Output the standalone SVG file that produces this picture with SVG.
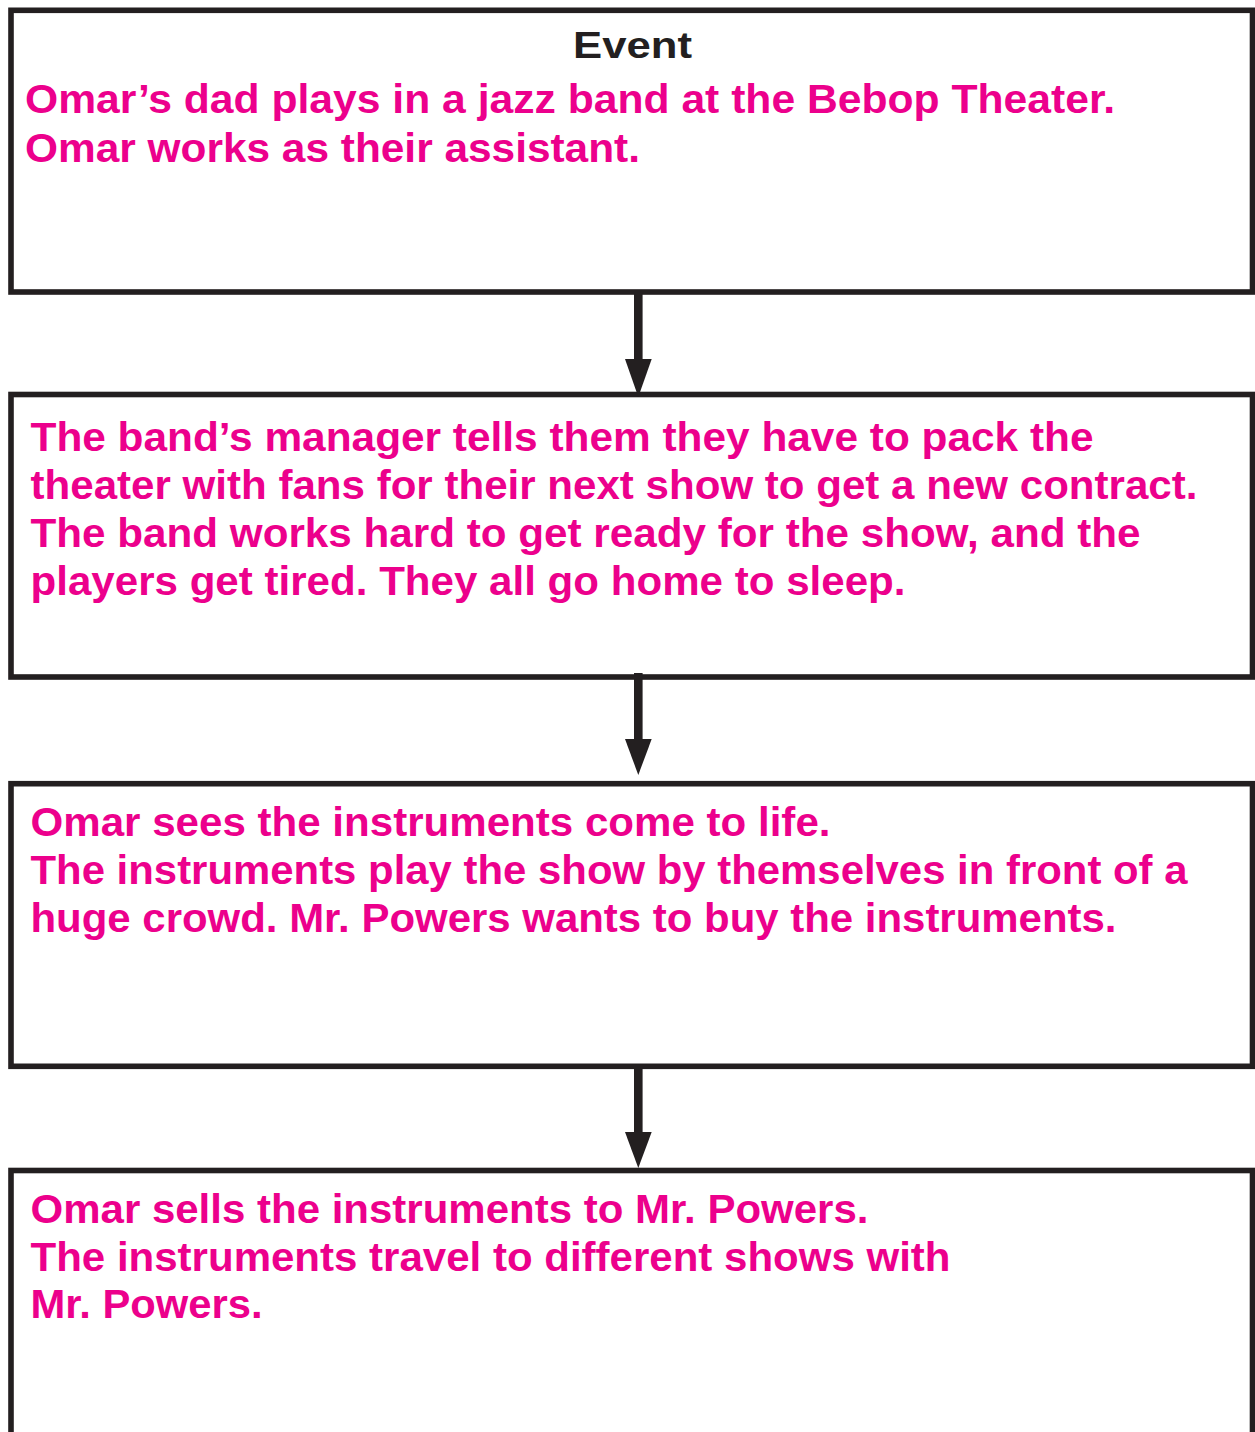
<svg xmlns="http://www.w3.org/2000/svg" width="1255" height="1432" viewBox="0 0 1255 1432">
  <style>
    .box { fill: #ffffff; stroke: #231f20; stroke-width: 5.6; }
    .shaft { stroke: #231f20; stroke-width: 8.6; fill: none; }
    .head { fill: #231f20; }
    .title { font-family: "Liberation Sans", Arial, sans-serif; font-weight: bold; font-size: 37px; fill: #231f20; }
    .txt { font-family: "Liberation Sans", Arial, sans-serif; font-weight: bold; font-size: 41px; fill: #ec008c; }
  </style>
  <rect width="1255" height="1432" fill="#ffffff"/>

  <g id="event-1">
    <rect class="box" x="11" y="10.3" width="1241.5" height="281.7"/>
    <text class="title" x="573" y="58.3" textLength="119" lengthAdjust="spacingAndGlyphs">Event</text>
    <text class="txt" x="25" y="113.3" textLength="1090" lengthAdjust="spacingAndGlyphs">Omar’s dad plays in a jazz band at the Bebop Theater.</text>
    <text class="txt" x="25" y="161.5" textLength="615" lengthAdjust="spacingAndGlyphs">Omar works as their assistant.</text>
  </g>

  <g id="event-2">
    <rect class="box" x="11" y="394.5" width="1241.5" height="282.5"/>
    <text class="txt" x="30.5" y="451" textLength="1063" lengthAdjust="spacingAndGlyphs">The band’s manager tells them they have to pack the</text>
    <text class="txt" x="30.5" y="499" textLength="1167" lengthAdjust="spacingAndGlyphs">theater with fans for their next show to get a new contract.</text>
    <text class="txt" x="30.5" y="547" textLength="1110" lengthAdjust="spacingAndGlyphs">The band works hard to get ready for the show, and the</text>
    <text class="txt" x="30.5" y="595" textLength="875" lengthAdjust="spacingAndGlyphs">players get tired. They all go home to sleep.</text>
  </g>

  <g id="event-3">
    <rect class="box" x="11" y="783.7" width="1241.5" height="282.6"/>
    <text class="txt" x="30.5" y="836" textLength="800" lengthAdjust="spacingAndGlyphs">Omar sees the instruments come to life.</text>
    <text class="txt" x="30.5" y="884" textLength="1157" lengthAdjust="spacingAndGlyphs">The instruments play the show by themselves in front of a</text>
    <text class="txt" x="30.5" y="932" textLength="1086" lengthAdjust="spacingAndGlyphs">huge crowd. Mr. Powers wants to buy the instruments.</text>
  </g>

  <g id="event-4">
    <rect class="box" x="11" y="1170.5" width="1241.5" height="400"/>
    <text class="txt" x="30.5" y="1223.3" textLength="838" lengthAdjust="spacingAndGlyphs">Omar sells the instruments to Mr. Powers.</text>
    <text class="txt" x="30.5" y="1270.8" textLength="920" lengthAdjust="spacingAndGlyphs">The instruments travel to different shows with</text>
    <text class="txt" x="30.5" y="1318.3" textLength="232" lengthAdjust="spacingAndGlyphs">Mr. Powers.</text>
  </g>

  <g id="connectors">
    <line class="shaft" x1="638.3" y1="292" x2="638.3" y2="362"/>
    <polygon class="head" points="625,359 651.7,359 638.3,397"/>
    <line class="shaft" x1="638.3" y1="673" x2="638.3" y2="742"/>
    <polygon class="head" points="625,739 651.7,739 638.3,775"/>
    <line class="shaft" x1="638.3" y1="1066" x2="638.3" y2="1135"/>
    <polygon class="head" points="625,1132 651.7,1132 638.3,1168"/>
  </g>
</svg>
